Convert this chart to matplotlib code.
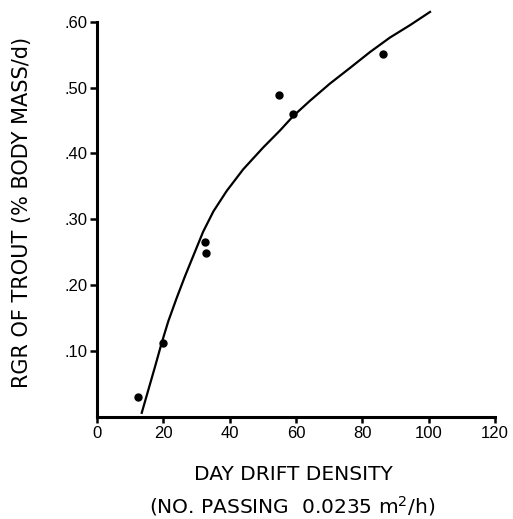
import matplotlib
matplotlib.use("Agg")
import matplotlib.pyplot as plt

plt.rcParams['font.family'] = ['Liberation Sans', 'DejaVu Sans']

# observed points
drift = [12.4, 19.9, 32.6, 32.9, 54.9, 59.1, 86.2]
rgr = [0.030, 0.112, 0.266, 0.249, 0.489, 0.460, 0.551]

# fitted curve
curve_x = [13.5, 15.5, 17.5, 19.5, 21.5, 24.0, 26.5, 29.0, 32.0, 35.1, 39.1,
           44.1, 50.1, 55.2, 59.2, 64.2, 70.2, 76.3, 82.3, 88.3, 94.4, 100.4]
curve_y = [0.006, 0.041, 0.076, 0.112, 0.145, 0.180, 0.213, 0.244, 0.281, 0.312, 0.343,
           0.376, 0.409, 0.435, 0.457, 0.480, 0.506, 0.530, 0.554, 0.576, 0.595, 0.615]

xticks = [0, 20, 40, 60, 80, 100, 120]
yticks = [0.10, 0.20, 0.30, 0.40, 0.50, 0.60]
ytick_labels = ['.10', '.20', '.30', '.40', '.50', '.60']

fig = plt.figure(figsize=(5.13, 5.19), dpi=100)
ax = fig.add_axes([0.189, 0.197, 0.776, 0.761])

ax.plot(curve_x, curve_y, color='black', linewidth=1.6, clip_on=False)
ax.plot(drift, rgr, 'o', color='black', markersize=5)

ax.set_xlim(0, 120)
ax.set_ylim(0, 0.60)
ax.set_xticks(xticks)
ax.set_yticks(yticks)
ax.set_yticklabels(ytick_labels)

for s in ['top', 'right']:
    ax.spines[s].set_visible(False)
for s in ['left', 'bottom']:
    ax.spines[s].set_linewidth(2.2)

ax.tick_params(axis='x', direction='out', length=4, width=1.8, pad=3, labelsize=12)
ax.tick_params(axis='y', direction='out', length=5, width=1.8, pad=2, labelsize=12)

fig.text(0.043, 0.5915, 'RGR OF TROUT (% BODY MASS/d)', rotation=90,
         ha='center', va='center', fontsize=15, family='DejaVu Sans')
fig.text(0.571, 0.085, 'DAY DRIFT DENSITY', ha='center', va='center',
         fontsize=14.5, family='DejaVu Sans')
fig.text(0.569, 0.024, '(NO. PASSING  0.0235 m$^2$/h)', ha='center', va='center',
         fontsize=14.5, family='DejaVu Sans')

fig.savefig('out.png', dpi=100)
